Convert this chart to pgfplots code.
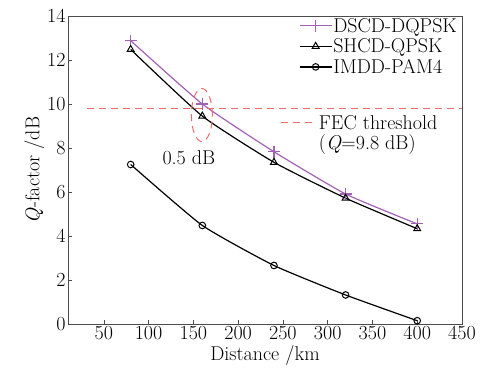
\documentclass[border=0pt]{standalone}
\usepackage{pgfplots}
\pgfplotsset{compat=1.18}
\definecolor{dpurple}{HTML}{A361B5}
\definecolor{fecred}{HTML}{F06A6A}
\newcommand{\bigf}{\fontsize{20}{22}\selectfont}
\begin{document}
\begin{tikzpicture}[x=1pt,y=1pt]
\path[use as bounding box] (-68,-48) rectangle (414,324);
\begin{axis}[
  at={(0pt,0pt)}, anchor=south west,
  scale only axis,
  width=394pt, height=308pt,
  xmin=10, xmax=450, ymin=0, ymax=14,
  xtick={50,100,...,450}, ytick={0,2,...,14},
  xlabel={\bigf Distance /km},
  ylabel={\bigf \textit{Q}-factor /dB},
  xlabel style={font=\bigf, yshift=2pt},
  ylabel style={font=\bigf, yshift=-4pt},
  tick align=inside,
  tick style={black!70, thin},
  major tick length=4pt,
  axis line style={black!70},
  xtick pos=bottom, ytick pos=left,
  /pgf/number format/assume math mode=true,
  xticklabel style={font=\bigf, yshift=1pt},
  yticklabel style={font=\bigf, xshift=1pt},
  clip=false,
  legend style={draw=none, fill=none, at={(rel axis cs:0.99,0.997)}, anchor=north east,
    font=\bigf, row sep=3pt, inner sep=0pt, nodes={inner sep=1pt}},
  legend cell align=left,
  legend image code/.code={\draw[mark repeat=2,mark phase=2,#1] plot coordinates {(0pt,0pt) (16pt,0pt) (32pt,0pt)};},
]
\addplot[dpurple, line width=1.2pt, mark=+, mark size=6pt, smooth, tension=0.3] coordinates {
(80,12.88) (160,10.0) (240,7.83) (320,5.91) (400,4.55)};
\addlegendentry{DSCD-DQPSK}
\addplot[black, line width=1.2pt, mark=triangle, mark size=4pt, mark options={fill=white, line width=1pt}, smooth, tension=0.3] coordinates {
(80,12.48) (160,9.45) (240,7.35) (320,5.72) (400,4.33)};
\addlegendentry{SHCD-QPSK}
\addplot[black, line width=1.2pt, mark=o, mark size=3.3pt, mark options={fill=white, line width=1pt}, smooth, tension=0.3] coordinates {
(80,7.25) (160,4.48) (240,2.66) (320,1.32) (400,0.15)};
\addlegendentry{IMDD-PAM4}
\addplot[fecred, line width=1pt, dash pattern=on 7pt off 5pt, forget plot] coordinates {(31,9.8) (450,9.8)};
\draw[fecred, line width=1pt, dash pattern=on 7pt off 5pt] (axis cs:159.5,9.5) ellipse [x radius=10.5pt, y radius=26.5pt];
\node[font=\bigf] at (axis cs:145,7.55) {0.5 dB};
\draw[fecred, line width=1pt, dash pattern=on 7pt off 5pt] (axis cs:247.5,9.14) -- (axis cs:286.5,9.14);
\node[font=\bigf, anchor=west, inner sep=0pt] at (axis cs:290,9.14) {FEC threshold};
\node[font=\bigf, anchor=west, inner sep=0pt] at (axis cs:290,8.14) {(\textit{Q}=9.8 dB)};
\end{axis}
\end{tikzpicture}
\end{document}
